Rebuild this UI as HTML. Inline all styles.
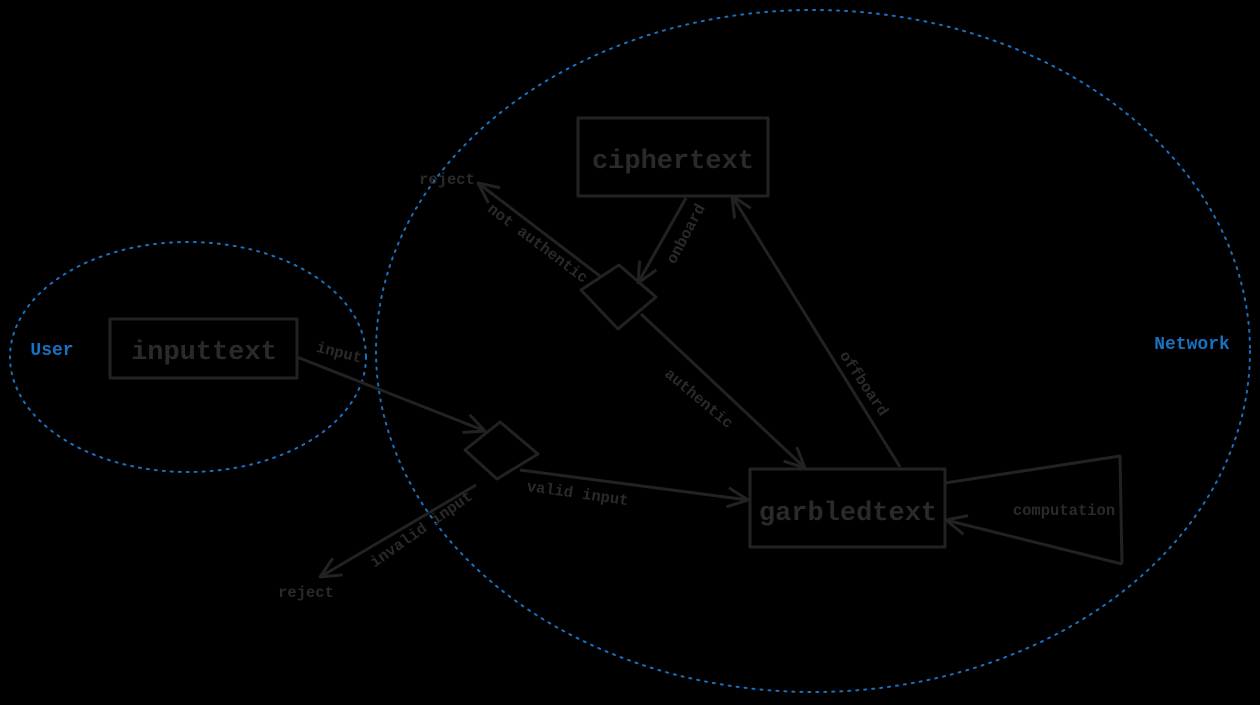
<!DOCTYPE html>
<html><head><style>
html,body{margin:0;padding:0;background:#000;}
svg{display:block;}
text{font-family:"Liberation Mono","DejaVu Sans Mono",monospace;fill:#2a2a2a;}
</style></head><body>
<svg width="1260" height="705" viewBox="0 0 1260 705" xmlns="http://www.w3.org/2000/svg">
<defs>
<marker id="a" viewBox="0 0 20 20" refX="19" refY="10" markerWidth="24" markerHeight="24" markerUnits="userSpaceOnUse" orient="auto">
<path d="M2,2 L19,10 L2,18" fill="none" stroke="#222" stroke-width="2.5"/>
</marker>
</defs>
<g fill="none" stroke="#1971c2" stroke-width="2" stroke-dasharray="2 6" stroke-linecap="round">
<ellipse cx="188" cy="357" rx="178" ry="115"/>
<ellipse cx="813" cy="351" rx="437" ry="341"/>
</g>
<text x="52" y="355" font-size="18" font-weight="bold" text-anchor="middle" style="fill:#1971c2">User</text>
<text x="1192" y="349" font-size="18" font-weight="bold" text-anchor="middle" style="fill:#1971c2">Network</text>

<g fill="none" stroke="#222" stroke-width="3" stroke-linejoin="round">
<rect x="110" y="319" width="187" height="59"/>
<rect x="578" y="118" width="190" height="78"/>
<rect x="750" y="469" width="195" height="78"/>
<path d="M619,265 L656,297 L618,329 L581,290 Z"/>
<path d="M500,422 L538,454 L497,479 L465,450 Z"/>
<path d="M945,483 L1120,456 L1122,564"/>
</g>
<g fill="none" stroke="#222" stroke-width="3" marker-end="url(#a)">
<line x1="297" y1="357" x2="485" y2="431"/>
<line x1="520" y1="470" x2="748" y2="500"/>
<line x1="476" y1="485" x2="320" y2="577"/>
<line x1="686" y1="198" x2="638" y2="283"/>
<line x1="600" y1="276" x2="478" y2="183"/>
<line x1="641" y1="314" x2="805" y2="468"/>
<line x1="900" y1="467" x2="732" y2="196"/>
<line x1="1122" y1="564" x2="946" y2="520"/>
</g>
<g font-size="27" font-weight="bold" text-anchor="middle">
<text x="204" y="359">inputtext</text>
<text x="673" y="168">ciphertext</text>
<text x="848" y="520">garbledtext</text>
</g>
<g font-size="15.5" font-weight="bold" text-anchor="middle">
<text x="1064" y="515">computation</text>
<text x="447" y="184">reject</text>
<text x="306" y="597">reject</text>
<text transform="translate(338,357) rotate(14)">input</text>
<text transform="translate(577,498) rotate(8)">valid input</text>
<text transform="translate(424,533) rotate(-35)">invalid input</text>
<text transform="translate(535,247) rotate(37)">not authentic</text>
<text transform="translate(690,236) rotate(-62)">onboard</text>
<text transform="translate(696,402) rotate(40)">authentic</text>
<text transform="translate(860,386) rotate(56)">offboard</text>
</g>
</svg>
</body></html>
